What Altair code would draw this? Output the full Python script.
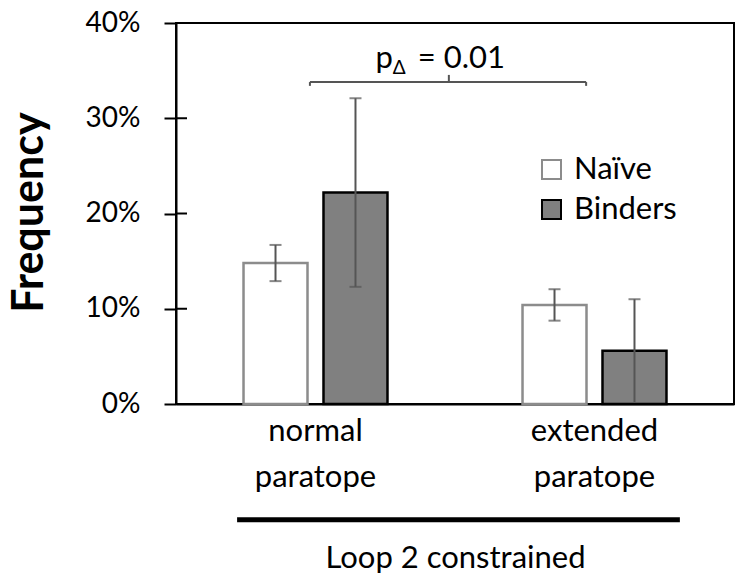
import altair as alt
import pandas as pd

groups = ["normal paratope", "extended paratope"]
series = ["Naïve", "Binders"]
freq_naive = [0.148, 0.104]
freq_binders = [0.222, 0.056]
err_naive = [0.019, 0.0165]
err_binders = [0.099, 0.054]
y_ticks = [0.0, 0.1, 0.2, 0.3, 0.4]
p_label_value = "= 0.01"
x_title = "Loop 2 constrained"
y_title = "Frequency"

rows = []
for g, v, e in zip(groups, freq_naive, err_naive):
    rows.append({"Group": g, "Series": series[0], "Freq": v, "Lo": max(v - e, 0), "Hi": v + e})
for g, v, e in zip(groups, freq_binders, err_binders):
    rows.append({"Group": g, "Series": series[1], "Freq": v, "Lo": max(v - e, 0), "Hi": v + e})
df = pd.DataFrame(rows)
caps = pd.concat([
    df[["Group", "Series", "Hi"]].rename(columns={"Hi": "Cap"}),
    df[df["Lo"] > 0.005][["Group", "Series", "Lo"]].rename(columns={"Lo": "Cap"}),
])

FONT = "Lato"
xscale = alt.Scale(domain=groups, paddingInner=0.484, paddingOuter=0.242)
yscale = alt.Scale(domain=[0, 0.4], nice=False, zero=True)
xoff = alt.XOffset("Series:N", scale=alt.Scale(domain=series, paddingInner=0.2, paddingOuter=0))
# group positions on a continuous axis (group i centred at i + 0.5)
qscale = alt.Scale(domain=[0, 2], nice=False, zero=False)

leg = alt.Legend(orient="none", legendX=360, legendY=131, title=None,
                 symbolType="square", symbolSize=361, symbolStrokeWidth=2,
                 labelFontSize=31, labelColor="black", labelOffset=7,
                 rowPadding=8, padding=0)

base = alt.Chart(df)

bars = base.mark_bar(strokeWidth=2.5).encode(
    x=alt.X("Group:N", scale=xscale, sort=groups,
            axis=alt.Axis(title=x_title, labelExpr="split(datum.label, ' ')",
                          labelLineHeight=46, labelFontSize=31, labelPadding=12,
                          labelBaseline="top", labelAngle=0, ticks=False,
                          domainColor="black", domainWidth=2, labelColor="black",
                          titleFontSize=31, titleFontWeight="normal", titleColor="black",
                          titleY=163, titleBaseline="alphabetic")),
    xOffset=xoff,
    y=alt.Y("Freq:Q", scale=yscale,
            axis=alt.Axis(title=y_title, values=y_ticks, format=".0%", grid=False,
                          tickSize=12, tickWidth=2, tickColor="black",
                          domainColor="black", domainWidth=2,
                          labelFontSize=28, labelPadding=24, labelColor="black",
                          titleFontSize=43, titleFontWeight="bold", titleColor="black",
                          titleAngle=270, titleX=-134, titleY=189,
                          titleAlign="center", titleBaseline="alphabetic")),
    fill=alt.Fill("Series:N", scale=alt.Scale(domain=series, range=["white", "#808080"]),
                  legend=leg),
    stroke=alt.Stroke("Series:N", scale=alt.Scale(domain=series, range=["#8c8c8c", "black"]),
                      legend=leg),
)

errs = base.mark_rule(color="#555555", strokeWidth=2).encode(
    x=alt.X("Group:N", scale=xscale, sort=groups),
    xOffset=xoff,
    y=alt.Y("Lo:Q", scale=yscale),
    y2="Hi:Q",
)

capmarks = alt.Chart(caps).mark_tick(color="#555555", thickness=2, size=12).encode(
    x=alt.X("Group:N", scale=xscale, sort=groups),
    xOffset=xoff,
    y=alt.Y("Cap:Q", scale=yscale),
)

main = alt.layer(bars, errs, capmarks)

inner_ticks = alt.Chart(pd.DataFrame({"t": y_ticks[1:4]})).mark_rule(
    color="black", strokeWidth=2).encode(
    y=alt.Y("t:Q", scale=yscale), x=alt.value(0), x2=alt.value(11))

br = pd.DataFrame({"x0": [0.480], "x1": [1.470], "xc": [0.978],
                   "u0": [0.219], "u1": [1.806],
                   "y": [0.338], "yhook": [0.334], "ytop": [0.3455],
                   "ytext": [0.3532], "yline": [-0.1215]})
bchart = alt.Chart(br)
def qx(f):
    return alt.X(f + ":Q", scale=qscale, axis=None)

bline = bchart.mark_rule(color="#555555", strokeWidth=2).encode(
    x=qx("x0"), x2="x1:Q", y=alt.Y("y:Q", scale=yscale))
hook_l = bchart.mark_rule(color="#555555", strokeWidth=2).encode(
    x=qx("x0"), y=alt.Y("y:Q", scale=yscale), y2="yhook:Q")
hook_r = bchart.mark_rule(color="#555555", strokeWidth=2).encode(
    x=qx("x1"), y=alt.Y("y:Q", scale=yscale), y2="yhook:Q")
hook_c = bchart.mark_rule(color="#555555", strokeWidth=2).encode(
    x=qx("xc"), y=alt.Y("y:Q", scale=yscale), y2="ytop:Q")
t_p = bchart.mark_text(text="p", fontSize=31, align="right", baseline="alphabetic",
                       dx=-56, color="black").encode(
    x=qx("xc"), y=alt.Y("ytext:Q", scale=yscale))
t_d = bchart.mark_text(text="Δ", fontSize=19, align="left", baseline="alphabetic",
                       dx=-56, dy=6, color="black").encode(
    x=qx("xc"), y=alt.Y("ytext:Q", scale=yscale))
t_v = bchart.mark_text(text=p_label_value, fontSize=31, align="left", baseline="alphabetic",
                       dx=-31, color="black").encode(
    x=qx("xc"), y=alt.Y("ytext:Q", scale=yscale))
under = bchart.mark_rule(color="black", strokeWidth=5).encode(
    x=qx("u0"), x2="u1:Q", y=alt.Y("yline:Q", scale=yscale))

annot = alt.layer(inner_ticks, bline, hook_l, hook_r, hook_c, t_p, t_d, t_v, under)

chart = alt.layer(main, annot).resolve_scale(x="independent").properties(
    width=558, height=381,
    autosize=alt.AutoSizeParams(type="none"),
    padding={"left": 168, "top": 15, "right": 3, "bottom": 171},
).configure(font=FONT).configure_view(stroke="black", strokeWidth=2)

chart.save("out.html", embed_options={"renderer": "svg", "actions": False})
